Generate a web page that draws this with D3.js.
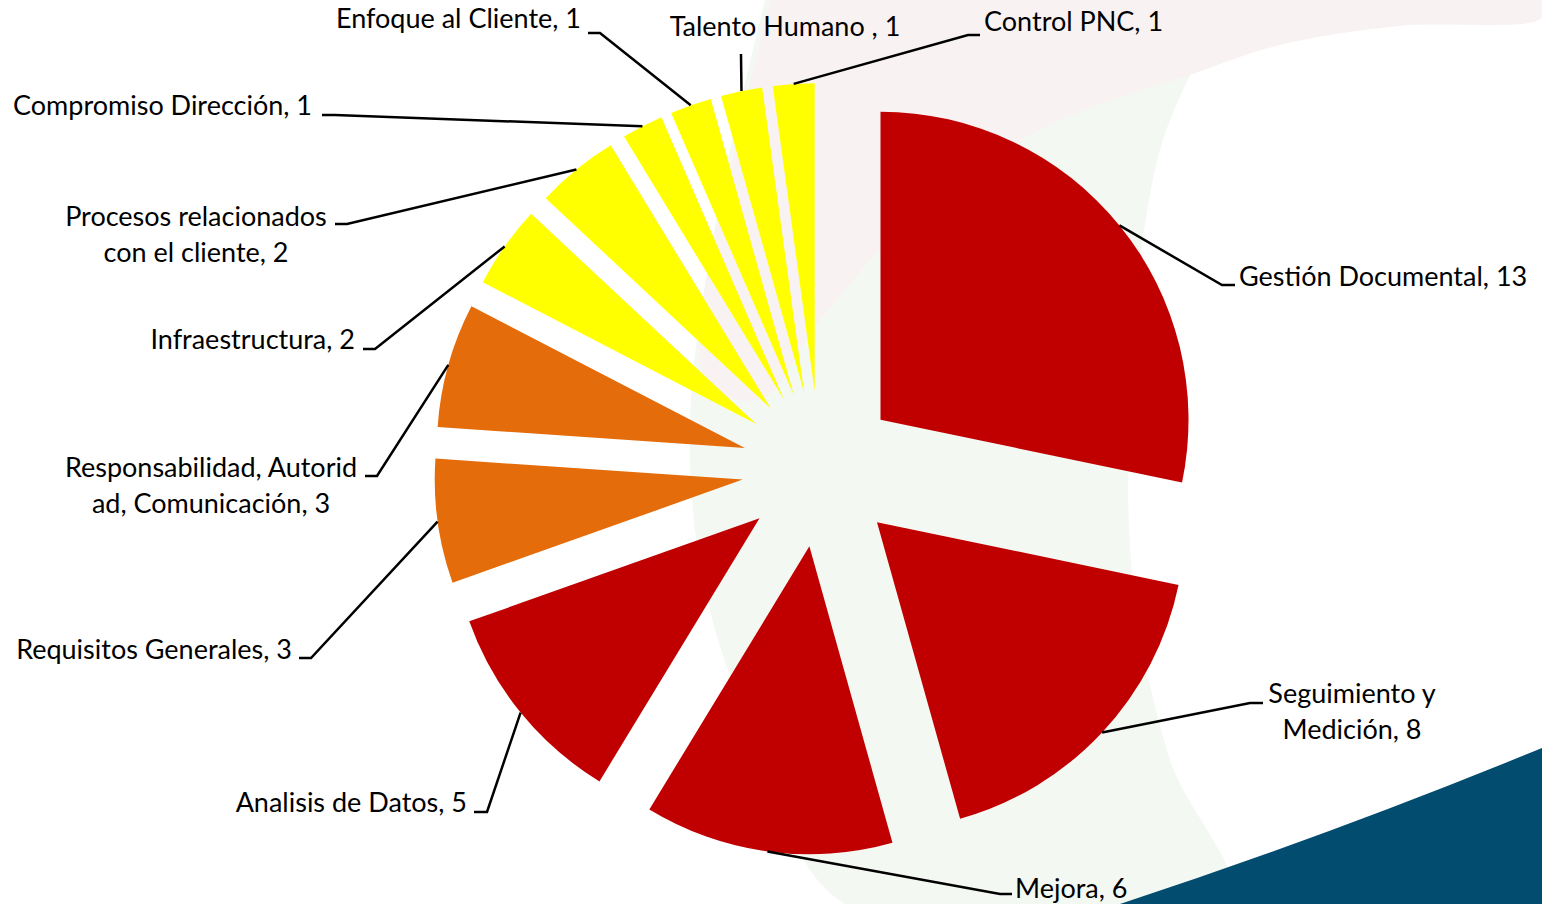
<!DOCTYPE html>
<html lang="es">
<head>
    <meta charset="UTF-8">
    <script src="https://d3js.org/d3.v7.min.js"></script>
    <title>Hallazgos por requisito</title>
    <style>
        body { margin: 0; background: #fff; }
        text.label {
            fill: #000;
            font-size: 27px;
            font-family: Lato, 'Noto Sans', sans-serif;
        }
        path.leader { fill: none; stroke: #000; stroke-width: 2.5; }
    </style>
</head>
<body>
<svg height="904" width="1542"></svg>
<script>
    const width = 1542, height = 904;

    // data
    const categories = ["Gestión Documental", "Seguimiento y Medición", "Mejora", "Analisis de Datos",
        "Requisitos Generales", "Responsabilidad, Autoridad, Comunicación", "Infraestructura",
        "Procesos relacionados con el cliente", "Compromiso Dirección", "Enfoque al Cliente",
        "Talento Humano ", "Control PNC"];
    const values = [13, 8, 6, 5, 3, 3, 2, 2, 1, 1, 1, 1];
    const levels = ["alto", "alto", "alto", "alto", "medio", "medio", "bajo", "bajo", "bajo", "bajo", "bajo", "bajo"];

    const color = d3.scaleOrdinal().domain(["alto", "medio", "bajo"]).range(["#c00000", "#e46c0a", "#ffff00"]);

    // label placement (manual, like the original)
    const labelLayout = [
        {elbow: [1222, 285], tick: 13, x: 1239, y: 286, anchor: "start"},
        {elbow: [1250, 703], tick: 13, x: 1352, y: 703, anchor: "middle", wrap: 13},
        {elbow: [1000, 894], tick: 12, x: 1015, y: 898, anchor: "start"},
        {elbow: [487, 812], tick: -13, x: 467, y: 812, anchor: "end"},
        {elbow: [311, 658], tick: -12, x: 292, y: 659, anchor: "end"},
        {elbow: [377, 476], tick: -12, x: 211, y: 477, anchor: "middle", wrap: 24},
        {elbow: [375, 349], tick: -12, x: 355, y: 349, anchor: "end"},
        {elbow: [347, 224], tick: -12, x: 196, y: 226, anchor: "middle", wrap: 21},
        {elbow: [335, 115], tick: -13, x: 312, y: 115, anchor: "end"},
        {elbow: [600, 33], tick: -12, x: 581, y: 28, anchor: "end"},
        {elbow: [741, 54], tick: 0, x: 785, y: 36, anchor: "middle"},
        {elbow: [968, 35], tick: 12, x: 984, y: 31, anchor: "start"}
    ];

    const cx = 820, cy = 469, R = 308, explode = 78, lineGap = 36;

    const svg = d3.select("svg");

    // background decoration
    const bg = svg.append("g");
    const curve = d3.line().curve(d3.curveCatmullRom);
    bg.append("path")
        .attr("d", curve([[765, 0], [720, 200], [690, 420], [705, 590], [760, 750], [845, 904],
            [1230, 904], [1170, 760], [1135, 600], [1128, 450], [1138, 280], [1160, 150], [1190, 75], [1230, 0]]) + "Z")
        .attr("fill", "#f4f8f3");
    bg.append("path")
        .attr("d", curve([[770, 0], [1542, 0], [1542, 18], [1400, 26], [1280, 45], [1190, 75], [1050, 125],
            [930, 200], [820, 320], [760, 400], [705, 380], [715, 230]]) + "Z")
        .attr("fill", "#f9f2f3");
    bg.append("path")
        .attr("d", "M1120,904 Q1330,835 1542,748 L1542,904 Z")
        .attr("fill", "#024c70");

    const data = categories.map((c, i) => ({name: c, value: values[i], level: levels[i], layout: labelLayout[i]}));

    const pie = d3.pie().sort(null).value(d => d.value).startAngle(0).endAngle(2 * Math.PI);
    const arc = d3.arc().innerRadius(0).outerRadius(R);
    const arcs = pie(data);

    const offset = (a, r) => [r * Math.sin(a), -r * Math.cos(a)];

    const g = svg.append("g").attr("transform", `translate(${cx},${cy})`);

    g.selectAll("path.slice").data(arcs).enter().append("path")
        .attr("class", "slice")
        .attr("transform", d => {
            const [dx, dy] = offset((d.startAngle + d.endAngle) / 2, explode);
            return `translate(${dx},${dy})`;
        })
        .attr("d", arc)
        .style("fill", d => color(d.data.level));

    // leader lines and labels
    arcs.forEach(d => {
        const mid = (d.startAngle + d.endAngle) / 2;
        const [vx, vy] = offset(mid, explode);
        const [ox, oy] = offset(mid, R);
        const start = [cx + vx + ox, cy + vy + oy];
        const L = d.data.layout;
        const pts = [start, L.elbow];
        if (L.tick) pts.push([L.elbow[0] + L.tick, L.elbow[1]]);
        svg.append("path").attr("class", "leader").attr("d", d3.line()(pts));

        const txt = `${d.data.name}, ${d.data.value}`;
        const lines = L.wrap ? [txt.slice(0, L.wrap).trim(), txt.slice(L.wrap).trim()] : [txt];
        const t = svg.append("text").attr("class", "label")
            .attr("text-anchor", L.anchor);
        lines.forEach((s, k) => {
            t.append("tspan").attr("x", L.x).attr("y", L.y + k * lineGap).text(s);
        });
    });
</script>
</body>
</html>
